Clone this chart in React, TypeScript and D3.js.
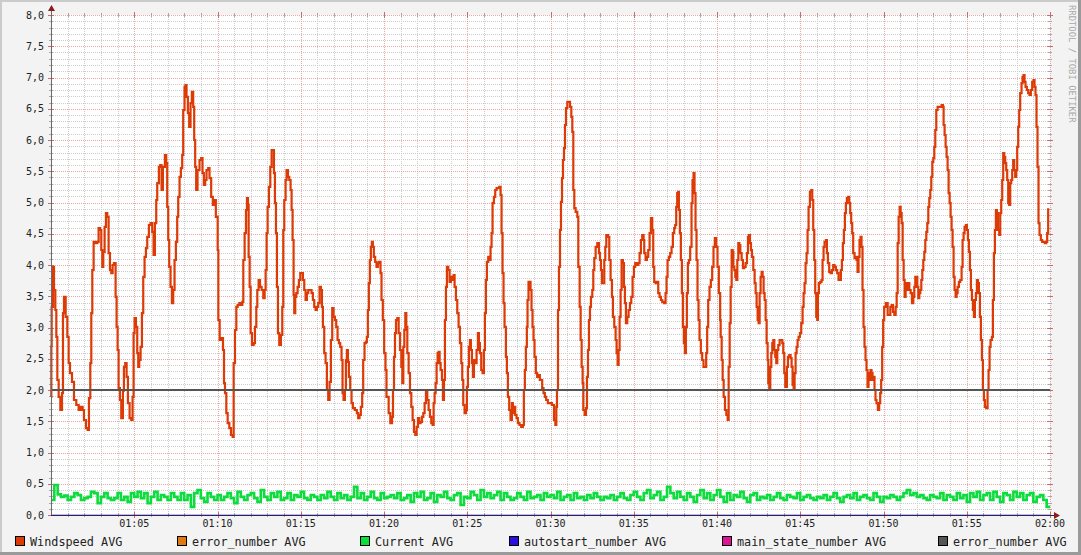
import React from "react";
import * as d3 from "d3";

// ---------- DATA ----------
// Windspeed AVG: [minutes after 01:00, m/s]
const windspeed: [number, number][] = [
  [0.00,1.89],[0.02,2.7],[0.04,3.33],[0.12,3.97],[0.18,3.6],[0.26,3.28],[0.32,2.85],[0.38,2.16],[0.46,1.89],[0.56,1.68],[0.66,1.95],[0.72,3.23],[0.78,3.49],[0.88,3.17],[0.98,2.85],[1.06,2.43],[1.14,2.27],[1.26,2.13],[1.38,1.84],[1.52,1.76],[1.66,1.68],[1.78,1.73],[1.90,1.68],[1.98,1.52],[2.10,1.39],[2.20,1.36],[2.28,1.87],[2.36,2.43],[2.42,3.23],[2.48,3.92],[2.56,4.37],[2.66,4.35],[2.78,4.37],[2.86,4.59],[2.94,4.56],[3.02,4.24],[3.08,3.97],[3.14,4.21],[3.22,4.61],[3.30,4.83],[3.38,4.77],[3.46,4.19],[3.54,3.92],[3.62,3.87],[3.70,4.0],[3.78,4.03],[3.88,3.49],[3.94,3.01],[4.00,2.64],[4.06,2.03],[4.14,1.84],[4.22,1.55],[4.32,1.99],[4.38,2.37],[4.46,2.43],[4.54,2.21],[4.62,1.79],[4.72,1.55],[4.82,1.52],[4.90,1.89],[4.96,2.91],[5.02,3.15],[5.10,3.01],[5.18,2.59],[5.24,2.37],[5.30,2.48],[5.38,2.69],[5.46,3.23],[5.54,3.81],[5.62,4.13],[5.70,4.27],[5.78,4.45],[5.88,4.64],[5.98,4.67],[6.08,4.53],[6.16,4.16],[6.24,4.67],[6.32,5.04],[6.38,5.31],[6.48,5.57],[6.56,5.6],[6.64,5.2],[6.72,5.57],[6.84,5.76],[6.92,5.63],[6.98,4.93],[7.04,4.4],[7.10,3.97],[7.18,3.65],[7.26,3.39],[7.34,3.6],[7.42,4.08],[7.50,4.37],[7.58,4.77],[7.64,5.09],[7.72,5.41],[7.80,5.55],[7.88,5.76],[7.94,6.48],[8.02,6.85],[8.08,6.88],[8.14,6.69],[8.22,6.43],[8.30,6.21],[8.38,6.59],[8.46,6.77],[8.54,6.53],[8.60,6.0],[8.66,5.57],[8.72,5.2],[8.80,5.52],[8.92,5.68],[9.02,5.71],[9.10,5.47],[9.18,5.28],[9.26,5.36],[9.34,5.52],[9.44,5.55],[9.52,5.39],[9.62,5.09],[9.72,4.96],[9.82,5.04],[9.90,4.77],
  [10.01,4.24],[10.05,3.12],[10.13,2.8],[10.25,2.83],[10.33,2.64],[10.39,2.11],[10.45,1.95],[10.53,1.63],[10.61,1.47],[10.71,1.39],[10.81,1.28],[10.91,1.25],[10.97,2.43],[11.05,2.96],[11.13,3.33],[11.21,3.36],[11.31,3.39],[11.41,3.36],[11.49,3.41],[11.55,4.08],[11.63,4.51],[11.71,4.88],[11.77,5.07],[11.83,4.96],[11.87,4.13],[11.93,3.65],[11.99,2.91],[12.07,2.72],[12.17,2.75],[12.25,3.01],[12.33,3.33],[12.39,3.6],[12.47,3.76],[12.55,3.65],[12.65,3.6],[12.75,3.47],[12.83,3.6],[12.89,3.92],[12.95,4.51],[13.01,4.93],[13.09,5.25],[13.17,5.57],[13.25,5.84],[13.33,5.84],[13.39,5.47],[13.45,4.99],[13.51,4.51],[13.57,3.65],[13.63,2.91],[13.71,2.72],[13.81,2.88],[13.89,3.33],[13.95,4.56],[14.01,5.04],[14.09,5.36],[14.15,5.52],[14.23,5.41],[14.31,5.36],[14.39,5.2],[14.45,4.88],[14.51,4.4],[14.57,3.52],[14.61,3.23],[14.67,3.49],[14.73,3.55],[14.81,3.65],[14.89,3.76],[14.97,3.87],[15.05,3.87],[15.13,3.76],[15.21,3.6],[15.29,3.44],[15.37,3.55],[15.45,3.6],[15.55,3.6],[15.65,3.55],[15.73,3.44],[15.81,3.33],[15.89,3.28],[15.97,3.33],[16.05,3.39],[16.13,3.65],[16.21,3.6],[16.27,3.33],[16.33,3.01],[16.41,2.59],[16.49,2.43],[16.57,2.0],[16.65,1.84],[16.73,2.13],[16.81,2.8],[16.89,3.31],[16.97,3.17],[17.05,3.12],[17.13,3.01],[17.21,2.8],[17.29,2.75],[17.37,2.69],[17.45,2.48],[17.51,1.95],[17.57,1.84],[17.65,2.0],[17.71,2.48],[17.77,2.64],[17.83,2.45],[17.89,2.21],[17.97,2.0],[18.05,1.79],[18.13,1.71],[18.25,1.68],[18.37,1.63],[18.45,1.55],[18.53,1.6],[18.61,1.73],[18.69,1.95],[18.75,2.48],[18.83,2.75],[18.91,2.77],[18.97,2.85],[19.03,3.28],[19.09,3.71],[19.15,4.08],[19.21,4.29],[19.27,4.37],[19.33,4.29],[19.39,4.13],[19.47,4.05],[19.55,3.97],[19.63,4.03],[19.71,4.05],[19.79,3.87],[19.85,3.44],[19.93,3.12],[20.01,2.59],[20.09,2.32],[20.15,1.89],
  [20.22,1.89],[20.28,1.63],[20.38,1.47],[20.48,1.57],[20.54,2.0],[20.60,2.53],[20.66,2.91],[20.72,3.12],[20.80,3.15],[20.88,2.91],[20.96,2.64],[21.04,2.37],[21.10,2.11],[21.16,2.69],[21.22,2.96],[21.28,3.23],[21.34,3.01],[21.40,2.59],[21.48,2.27],[21.56,1.95],[21.64,1.73],[21.72,1.52],[21.80,1.33],[21.88,1.28],[21.96,1.41],[22.04,1.55],[22.12,1.47],[22.20,1.49],[22.28,1.57],[22.36,1.63],[22.44,1.79],[22.52,2.0],[22.60,1.84],[22.68,1.68],[22.76,1.57],[22.84,1.47],[22.92,1.44],[22.98,1.79],[23.04,1.95],[23.10,2.11],[23.16,2.43],[23.22,2.59],[23.28,2.61],[23.34,2.43],[23.40,2.32],[23.48,2.16],[23.54,1.84],[23.60,2.16],[23.66,3.12],[23.72,3.65],[23.78,3.97],[23.86,3.92],[23.94,3.73],[24.02,3.81],[24.10,3.76],[24.18,3.84],[24.24,3.65],[24.32,3.44],[24.40,3.23],[24.48,3.01],[24.56,2.75],[24.64,2.43],[24.70,2.16],[24.76,1.76],[24.84,1.63],[24.92,1.68],[24.98,2.05],[25.04,2.37],[25.10,2.69],[25.16,2.8],[25.22,2.64],[25.28,2.43],[25.34,2.21],[25.40,2.48],[25.48,2.43],[25.56,2.64],[25.64,2.91],[25.70,2.75],[25.76,2.59],[25.84,2.32],[25.92,2.27],[26.00,2.64],[26.06,3.23],[26.12,3.76],[26.18,4.05],[26.26,4.13],[26.34,4.08],[26.40,4.29],[26.46,4.51],[26.52,4.99],[26.60,5.09],[26.68,5.2],[26.76,5.23],[26.84,5.23],[26.92,5.25],[27.00,5.12],[27.06,4.51],[27.12,3.87],[27.18,3.39],[27.24,3.01],[27.32,2.53],[27.38,2.27],[27.44,1.89],[27.52,1.68],[27.60,1.52],[27.68,1.79],[27.74,1.63],[27.80,1.73],[27.88,1.6],[27.96,1.55],[28.04,1.47],[28.14,1.44],[28.24,1.41],[28.34,1.44],[28.40,2.0],[28.46,2.32],[28.52,2.69],[28.58,3.01],[28.62,3.44],[28.68,3.73],[28.74,3.73],[28.80,3.6],[28.86,3.28],[28.92,3.01],[28.98,2.8],[29.04,2.53],[29.12,2.27],[29.20,2.21],[29.28,2.24],[29.36,2.16],[29.44,2.16],[29.50,2.03],[29.58,1.95],[29.66,1.89],[29.74,1.84],[29.84,1.79],[29.96,1.79],[30.08,1.76],
  [30.21,1.52],[30.29,1.44],[30.35,1.73],[30.39,2.0],[30.45,3.28],[30.51,3.97],[30.57,4.56],[30.63,5.01],[30.69,5.39],[30.75,5.68],[30.81,5.87],[30.87,6.24],[30.93,6.51],[31.01,6.61],[31.09,6.61],[31.17,6.53],[31.25,6.37],[31.31,6.13],[31.37,5.2],[31.43,4.91],[31.51,4.85],[31.61,4.77],[31.67,3.97],[31.75,3.33],[31.81,2.8],[31.87,2.37],[31.93,2.11],[31.97,1.68],[32.05,1.6],[32.13,1.71],[32.19,2.21],[32.25,2.64],[32.31,3.12],[32.37,3.33],[32.43,3.49],[32.51,3.6],[32.57,3.92],[32.63,4.11],[32.71,4.29],[32.81,4.35],[32.91,4.19],[32.97,4.08],[33.03,3.92],[33.09,3.71],[33.17,3.71],[33.23,4.08],[33.29,4.29],[33.35,4.48],[33.45,4.45],[33.53,4.08],[33.61,3.76],[33.69,3.49],[33.75,3.17],[33.83,3.01],[33.91,2.8],[33.97,2.59],[34.03,2.4],[34.09,2.64],[34.15,3.17],[34.21,3.6],[34.27,4.08],[34.35,4.03],[34.41,3.65],[34.47,3.39],[34.53,3.07],[34.61,3.17],[34.69,3.28],[34.77,3.39],[34.85,3.49],[34.93,3.81],[35.01,3.97],[35.09,4.03],[35.19,4.0],[35.27,4.03],[35.35,4.19],[35.43,4.4],[35.51,4.48],[35.59,4.4],[35.63,4.19],[35.71,4.08],[35.79,4.13],[35.87,4.24],[35.95,4.51],[36.03,4.75],[36.11,4.56],[36.17,3.97],[36.23,3.73],[36.31,3.71],[36.39,3.73],[36.47,3.55],[36.55,3.49],[36.63,3.44],[36.71,3.41],[36.81,3.39],[36.91,3.55],[36.97,3.81],[37.03,4.08],[37.11,4.13],[37.19,4.19],[37.27,4.29],[37.35,4.51],[37.43,4.59],[37.49,4.64],[37.55,4.93],[37.61,5.15],[37.67,5.17],[37.71,4.88],[37.77,4.51],[37.83,4.08],[37.89,3.55],[37.95,3.01],[38.01,2.75],[38.07,2.59],[38.13,3.01],[38.19,3.55],[38.25,4.03],[38.31,4.08],[38.39,4.29],[38.47,4.99],[38.53,5.36],[38.59,5.47],[38.65,5.15],[38.71,4.56],[38.77,4.08],[38.83,3.44],[38.89,3.12],[38.95,2.8],[39.03,2.59],[39.11,2.48],[39.19,2.37],[39.27,2.37],[39.35,2.59],[39.41,3.01],[39.47,3.44],[39.55,3.65],[39.63,3.76],[39.71,3.97],[39.79,4.29],[39.87,4.43],[39.95,4.29],[40.03,3.97],[40.11,3.55],[40.19,3.12],
  [40.22,2.85],[40.28,2.48],[40.34,2.16],[40.40,1.89],[40.48,1.68],[40.56,1.6],[40.64,1.52],[40.70,2.37],[40.76,3.07],[40.82,3.65],[40.88,4.24],[40.94,4.21],[40.98,3.97],[41.04,3.92],[41.10,3.81],[41.16,3.76],[41.22,4.08],[41.28,4.35],[41.34,4.32],[41.40,4.19],[41.48,4.08],[41.56,3.95],[41.64,3.97],[41.72,4.03],[41.80,4.19],[41.86,4.45],[41.92,4.48],[41.98,4.35],[42.04,4.24],[42.10,4.13],[42.18,3.92],[42.26,3.71],[42.32,3.55],[42.38,3.33],[42.44,3.12],[42.50,3.07],[42.56,3.55],[42.62,3.81],[42.68,3.89],[42.74,3.81],[42.80,3.55],[42.86,3.44],[42.92,3.12],[42.98,2.75],[43.04,2.48],[43.08,2.11],[43.14,2.03],[43.20,2.37],[43.26,2.59],[43.32,2.75],[43.38,2.8],[43.44,2.64],[43.50,2.53],[43.56,2.43],[43.62,2.64],[43.68,2.72],[43.76,2.8],[43.84,2.8],[43.92,2.75],[43.98,2.59],[44.04,2.27],[44.10,2.05],[44.16,2.05],[44.20,2.37],[44.26,2.53],[44.34,2.56],[44.42,2.51],[44.48,2.37],[44.54,2.08],[44.60,2.03],[44.66,2.27],[44.72,2.59],[44.78,2.69],[44.84,2.8],[44.90,2.85],[44.98,2.91],[45.06,3.07],[45.14,3.33],[45.20,3.55],[45.26,3.71],[45.32,4.03],[45.38,4.19],[45.44,4.56],[45.50,4.93],[45.58,5.17],[45.66,5.2],[45.72,5.04],[45.78,4.56],[45.84,4.08],[45.90,3.55],[45.96,3.17],[46.02,3.12],[46.06,3.55],[46.12,3.71],[46.20,3.73],[46.28,3.76],[46.34,4.08],[46.40,4.29],[46.46,4.37],[46.54,4.4],[46.60,4.19],[46.66,4.03],[46.74,3.89],[46.82,3.87],[46.90,3.92],[46.98,4.0],[47.06,3.97],[47.14,3.92],[47.22,3.87],[47.30,3.76],[47.38,3.76],[47.44,3.92],[47.50,4.08],[47.56,4.35],[47.62,4.56],[47.68,4.83],[47.74,4.99],[47.80,5.07],[47.88,5.09],[47.94,4.99],[48.00,4.83],[48.06,4.67],[48.12,4.51],[48.18,4.19],[48.26,4.11],[48.32,4.13],[48.38,4.08],[48.44,3.89],[48.50,4.13],[48.56,4.4],[48.62,4.45],[48.68,4.29],[48.74,3.6],[48.80,3.01],[48.86,2.69],[48.92,2.48],[48.98,2.32],[49.04,2.05],[49.10,2.27],[49.16,2.16],[49.22,2.32],[49.28,2.27],[49.34,2.16],[49.40,2.21],[49.46,2.0],[49.52,1.84],[49.58,1.79],[49.66,1.68],[49.74,1.79],[49.80,1.95],[49.86,2.16],[49.92,2.69],[49.98,3.12],[50.04,3.33],[50.14,3.39],
  [50.25,3.2],[50.33,3.2],[50.41,3.33],[50.49,3.36],[50.57,3.25],[50.65,3.2],[50.73,3.33],[50.79,3.55],[50.85,4.35],[50.91,4.77],[50.97,4.93],[51.03,4.83],[51.09,4.67],[51.15,4.08],[51.21,3.76],[51.27,3.49],[51.33,3.71],[51.41,3.6],[51.47,3.71],[51.55,3.6],[51.63,3.55],[51.71,3.39],[51.79,3.49],[51.85,3.65],[51.91,3.81],[51.97,3.81],[52.03,3.65],[52.09,3.47],[52.15,3.55],[52.21,3.6],[52.27,3.76],[52.33,3.92],[52.39,4.08],[52.45,4.21],[52.51,4.4],[52.57,4.53],[52.63,4.67],[52.69,4.93],[52.75,5.07],[52.81,5.2],[52.87,5.41],[52.93,5.65],[52.99,5.71],[53.05,5.89],[53.11,6.16],[53.17,6.48],[53.25,6.53],[53.33,6.53],[53.41,6.53],[53.49,6.56],[53.57,6.53],[53.61,6.24],[53.67,6.08],[53.73,5.89],[53.79,5.73],[53.85,5.52],[53.91,5.15],[53.97,4.99],[54.03,4.77],[54.09,4.56],[54.15,4.29],[54.21,3.81],[54.27,3.6],[54.33,3.49],[54.39,3.55],[54.45,3.65],[54.53,3.73],[54.61,3.76],[54.69,3.97],[54.75,4.4],[54.81,4.51],[54.87,4.61],[54.95,4.64],[55.01,4.56],[55.07,4.4],[55.13,4.21],[55.19,3.92],[55.25,3.6],[55.31,3.44],[55.37,3.28],[55.43,3.17],[55.49,3.44],[55.55,3.55],[55.61,3.76],[55.67,3.71],[55.73,3.55],[55.79,3.17],[55.85,2.8],[55.91,2.48],[55.97,2.0],[56.03,1.84],[56.09,1.73],[56.17,1.71],[56.25,2.0],[56.31,2.32],[56.37,2.69],[56.43,2.8],[56.51,2.85],[56.57,3.44],[56.63,4.19],[56.69,4.56],[56.75,4.88],[56.81,4.83],[56.87,4.56],[56.95,4.48],[57.01,4.83],[57.07,5.04],[57.13,5.36],[57.19,5.79],[57.25,5.73],[57.31,5.63],[57.37,5.52],[57.43,5.36],[57.49,4.99],[57.55,4.96],[57.61,5.31],[57.67,5.36],[57.73,5.52],[57.79,5.68],[57.85,5.52],[57.91,5.41],[57.97,5.52],[58.03,5.89],[58.09,6.21],[58.15,6.48],[58.21,6.75],[58.29,6.91],[58.35,7.01],[58.41,7.04],[58.47,6.93],[58.53,6.85],[58.61,6.8],[58.69,6.75],[58.77,6.72],[58.85,6.8],[58.93,6.93],[59.01,6.96],[59.07,6.85],[59.13,6.72],[59.19,6.21],[59.25,5.57],[59.31,4.67],[59.37,4.48],[59.45,4.4],[59.53,4.37],[59.61,4.37],[59.69,4.35],[59.77,4.37],[59.83,4.51],[59.89,4.91],
];

// Current AVG: one reading every 0.2 minutes, from 01:00
const currentStepMin = 0.2;
const current: number[] = [
  0.24,0.48,0.33,0.29,0.31,0.24,0.29,0.35,0.32,0.24,
  0.27,0.29,0.37,0.35,0.19,0.29,0.35,0.27,0.24,0.27,
  0.35,0.24,0.29,0.21,0.35,0.29,0.37,0.27,0.35,0.19,
  0.29,0.37,0.24,0.32,0.29,0.24,0.35,0.29,0.24,0.35,
  0.24,0.32,0.13,0.35,0.40,0.27,0.21,0.35,0.29,0.24,
  0.32,0.24,0.29,0.35,0.27,0.19,0.37,0.29,0.24,0.32,
  0.35,0.27,0.21,0.40,0.29,0.24,0.35,0.29,0.37,0.24,
  0.27,0.35,0.24,0.32,0.29,0.37,0.27,0.24,0.32,0.29,
  0.24,0.32,0.27,0.37,0.29,0.24,0.35,0.27,0.32,0.24,
  0.29,0.45,0.27,0.35,0.24,0.29,0.37,0.27,0.24,0.35,
  0.27,0.29,0.32,0.27,0.35,0.24,0.27,0.32,0.21,0.35,
  0.29,0.37,0.24,0.27,0.35,0.21,0.32,0.29,0.37,0.27,
  0.24,0.32,0.35,0.16,0.29,0.27,0.37,0.32,0.24,0.40,
  0.29,0.35,0.27,0.32,0.37,0.24,0.35,0.29,0.24,0.27,
  0.35,0.29,0.24,0.37,0.27,0.29,0.32,0.24,0.35,0.29,
  0.32,0.27,0.37,0.24,0.29,0.32,0.24,0.35,0.27,0.29,
  0.24,0.32,0.27,0.35,0.29,0.24,0.29,0.27,0.32,0.24,
  0.29,0.35,0.27,0.24,0.32,0.37,0.29,0.24,0.35,0.40,
  0.27,0.32,0.37,0.24,0.29,0.45,0.35,0.27,0.37,0.29,
  0.24,0.35,0.29,0.21,0.32,0.40,0.27,0.35,0.24,0.32,
  0.40,0.29,0.21,0.35,0.24,0.32,0.29,0.37,0.27,0.21,
  0.32,0.35,0.24,0.29,0.27,0.32,0.24,0.29,0.35,0.27,
  0.24,0.32,0.29,0.27,0.35,0.24,0.29,0.32,0.27,0.24,
  0.29,0.27,0.32,0.24,0.29,0.35,0.27,0.21,0.29,0.32,
  0.27,0.35,0.24,0.29,0.32,0.27,0.24,0.35,0.29,0.21,
  0.29,0.27,0.32,0.29,0.24,0.29,0.35,0.40,0.32,0.35,
  0.29,0.32,0.27,0.24,0.32,0.29,0.27,0.35,0.24,0.32,
  0.29,0.24,0.35,0.27,0.32,0.21,0.35,0.29,0.37,0.24,
  0.32,0.35,0.24,0.37,0.29,0.21,0.35,0.32,0.24,0.37,
  0.29,0.35,0.24,0.32,0.35,0.21,0.29,0.32,0.24,0.13,
  0.13,
];

// error_number AVG (grey) is constant at 2; the others sit at 0
const errorNumberLevel = 2;
const zeroLevel = 0;

const yTickValues = [0, 0.5, 1, 1.5, 2, 2.5, 3, 3.5, 4, 4.5, 5, 5.5, 6, 6.5, 7, 7.5, 8];
const yTickLabels = ["0,0","0,5","1,0","1,5","2,0","2,5","3,0","3,5","4,0","4,5","5,0","5,5","6,0","6,5","7,0","7,5","8,0"];
const xTickMinutes = [5, 10, 15, 20, 25, 30, 35, 40, 45, 50, 55, 60];
const xTickLabels = ["01:05","01:10","01:15","01:20","01:25","01:30","01:35","01:40","01:45","01:50","01:55","02:00"];

const legendNames = ["Windspeed AVG","error_number AVG","Current AVG","autostart_number AVG","main_state_number AVG","error_number AVG"];
const legendColors = ["#DD3A06","#E07A10","#0CDC3C","#2A10DC","#DC1496","#555555"];
const legendX = [15, 177, 360, 509, 722, 938];

// ---------- CHART ----------
const W = 1081, H = 555;
const X0 = 51, X1 = 1050, Y0 = 515, Y1 = 15;
const FONT = "'DejaVu Sans Mono', monospace";

export default function App() {
  const x = d3.scaleLinear().domain([0, 60]).range([X0, X1]);
  const y = d3.scaleLinear().domain([0, 8]).range([Y0, Y1]);

  const line = d3.line<[number, number]>()
    .x((d) => x(d[0]))
    .y((d) => y(d[1]))
    .curve(d3.curveStepAfter);

  const curPts: [number, number][] = current.map((v, i) => [Math.min(60, i * currentStepMin), v]);

  const minorY = d3.range(0, 81).map((i) => i / 10).filter((v) => Math.round(v * 10) % 5 !== 0);
  const majorY = yTickValues;
  const minorX = d3.range(1, 61).filter((m) => m % 5 !== 0);
  const majorX = xTickMinutes;

  const px = (v: number) => Math.round(v) + 0.5;

  return (
    <svg width={W} height={H} style={{ position: "absolute", left: 0, top: 0, display: "block" }}
      xmlns="http://www.w3.org/2000/svg">
      {/* background & 3D frame */}
      <rect x={0} y={0} width={W} height={H} fill="#F3F3F3" />
      <rect x={0} y={0} width={W} height={2} fill="#CBCBCB" />
      <rect x={0} y={0} width={2} height={H} fill="#CBCBCB" />
      <rect x={W - 3} y={0} width={3} height={H} fill="#9A9A9A" />
      <rect x={0} y={H - 3} width={W} height={3} fill="#9A9A9A" />
      {/* canvas */}
      <rect x={X0} y={Y1} width={X1 - X0} height={Y0 - Y1} fill="#FFFFFF" />

      {/* minor grid */}
      <g stroke="#CDCDCD" strokeWidth={1} strokeDasharray="1,1" shapeRendering="crispEdges">
        {minorY.map((v) => (
          <line key={"my" + v} x1={X0} x2={X1} y1={px(y(v))} y2={px(y(v))} />
        ))}
        {minorX.map((m) => (
          <line key={"mx" + m} x1={px(x(m))} x2={px(x(m))} y1={Y1} y2={Y0} />
        ))}
      </g>
      {/* minor ticks on frame */}
      <g stroke="#A8A8A8" strokeWidth={1} shapeRendering="crispEdges">
        {minorY.map((v) => (
          <g key={"ty" + v}>
            <line x1={X0 - 2} x2={X0 + 2} y1={px(y(v))} y2={px(y(v))} />
            <line x1={X1 - 2} x2={X1 + 2} y1={px(y(v))} y2={px(y(v))} />
          </g>
        ))}
        {minorX.map((m) => (
          <g key={"tx" + m}>
            <line x1={px(x(m))} x2={px(x(m))} y1={Y0 - 2} y2={Y0 + 2} />
            <line x1={px(x(m))} x2={px(x(m))} y1={Y1 - 2} y2={Y1 + 2} />
          </g>
        ))}
      </g>
      {/* major grid */}
      <g stroke="#E08C8C" strokeOpacity={0.75} strokeWidth={1} strokeDasharray="1,1" shapeRendering="crispEdges">
        {majorY.map((v) => (
          <line key={"My" + v} x1={X0} x2={X1} y1={px(y(v))} y2={px(y(v))} />
        ))}
        {majorX.map((m) => (
          <line key={"Mx" + m} x1={px(x(m))} x2={px(x(m))} y1={Y1} y2={Y0} />
        ))}
      </g>
      <g stroke="#C07070" strokeWidth={1} shapeRendering="crispEdges">
        {majorY.map((v) => (
          <g key={"Ty" + v}>
            <line x1={X0 - 3} x2={X0 + 3} y1={px(y(v))} y2={px(y(v))} />
            <line x1={X1 - 3} x2={X1 + 3} y1={px(y(v))} y2={px(y(v))} />
          </g>
        ))}
        {majorX.map((m) => (
          <g key={"Tx" + m}>
            <line x1={px(x(m))} x2={px(x(m))} y1={Y0 - 3} y2={Y0 + 3} />
            <line x1={px(x(m))} x2={px(x(m))} y1={Y1 - 3} y2={Y1 + 3} />
          </g>
        ))}
      </g>

      {/* series */}
      <path d={line(curPts) || ""} fill="none" stroke={legendColors[2]} strokeWidth={2.6}
        strokeLinejoin="miter" />
      <path d={line(windspeed) || ""} fill="none" stroke={legendColors[0]} strokeWidth={2.2}
        strokeLinejoin="miter" />
      <path d={line([[0, zeroLevel], [60, zeroLevel]]) || ""} fill="none" stroke={legendColors[3]}
        strokeOpacity={0.6} strokeWidth={1} />
      <path d={line([[0, errorNumberLevel], [60, errorNumberLevel]]) || ""} fill="none"
        stroke={legendColors[5]} strokeWidth={2} shapeRendering="crispEdges" />

      {/* axes */}
      <g shapeRendering="crispEdges">
        <line x1={X0 + 0.5} x2={X0 + 0.5} y1={Y0} y2={Y1 - 6} stroke="#6A6A6A" strokeWidth={1} />
        <line x1={X0} x2={X1 + 6} y1={Y0 + 0.5} y2={Y0 + 0.5} stroke="#2E2350" strokeWidth={1} />
      </g>
      <path d={`M${X0 - 3},${Y1 - 4} L${X0 + 4},${Y1 - 4} L${X0 + 0.5},${Y1 - 10} Z`} fill="#8A1C1C" />
      <path d={`M${X1 + 4},${Y0 - 3} L${X1 + 4},${Y0 + 4} L${X1 + 10},${Y0 + 0.5} Z`} fill="#8A1C1C" />

      {/* y labels */}
      <g fontFamily={FONT} fontSize={10} fill="#222" textAnchor="end">
        {yTickValues.map((v, i) => (
          <text key={"yl" + v} x={X0 - 7} y={y(v) + 3.5}>{yTickLabels[i]}</text>
        ))}
      </g>
      {/* x labels */}
      <g fontFamily={FONT} fontSize={10} fill="#222" textAnchor="middle">
        {xTickMinutes.map((m, i) => (
          <text key={"xl" + m} x={x(m)} y={Y0 + 12}>{xTickLabels[i]}</text>
        ))}
      </g>

      {/* legend */}
      <g fontFamily={FONT} fontSize={11.8} fill="#222">
        {legendNames.map((n, i) => (
          <g key={"lg" + i}>
            <rect x={legendX[i] + 0.5} y={536.5} width={9} height={9} fill={legendColors[i]}
              stroke="#000" strokeWidth={1} shapeRendering="crispEdges" />
            <text x={legendX[i] + 15} y={545.5}>{n}</text>
          </g>
        ))}
      </g>

      {/* watermark */}
      <text transform={`translate(1069,5) rotate(90)`} fontFamily={FONT} fontSize={8.9} fill="#A8A8A8">
        RRDTOOL / TOBI OETIKER
      </text>
    </svg>
  );
}
